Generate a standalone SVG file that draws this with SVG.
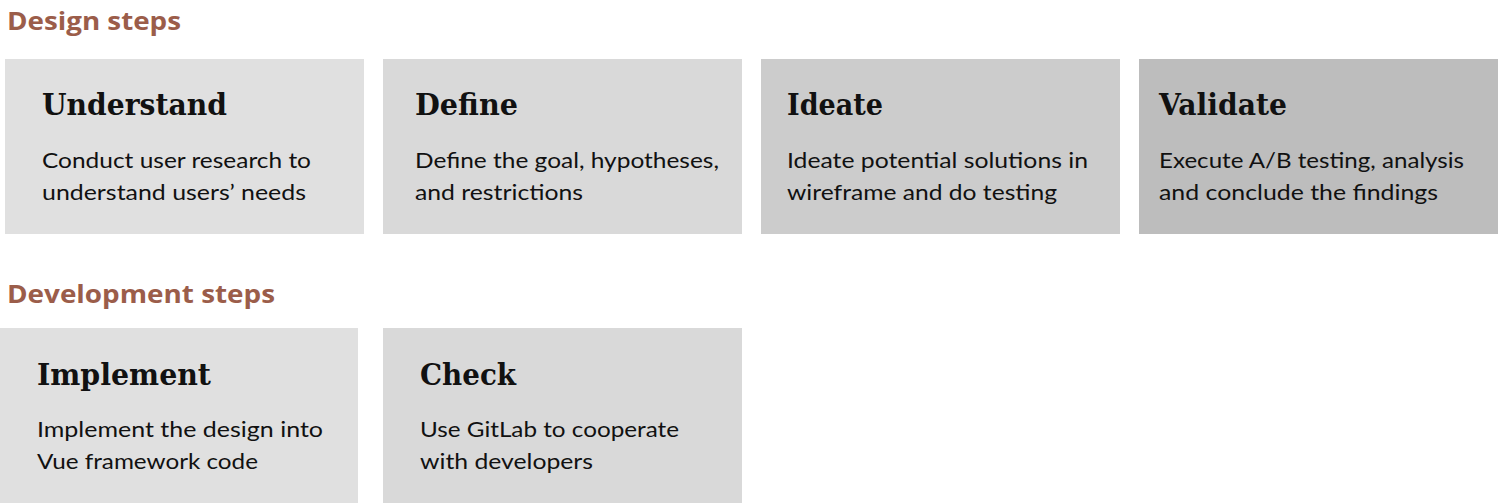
<svg xmlns="http://www.w3.org/2000/svg" width="1498" height="503" viewBox="0 0 1498 503">
  <style>
    .section { font-family: "Open Sans", "Noto Sans", sans-serif; font-weight: 700; font-size: 25px; fill: #9b5d4a; }
    .title { font-family: "DejaVu Serif", "Liberation Serif", serif; font-weight: 700; font-size: 30px; fill: #111111; }
    .body { font-family: "Lato", "Noto Sans", sans-serif; font-size: 22px; fill: #111111; }
    .c1 { fill: #e0e0e0; }
    .c2 { fill: #d9d9d9; }
    .c3 { fill: #cccccc; }
    .c4 { fill: #bdbdbd; }
  </style>
  <rect width="1498" height="503" fill="#ffffff"/>

  <!-- Design steps -->
  <text class="section" x="7" y="30" textLength="174" lengthAdjust="spacingAndGlyphs">Design steps</text>

  <g id="understand">
    <rect class="c1" x="5" y="59" width="359" height="175"/>
    <text class="title" x="42" y="115" textLength="185" lengthAdjust="spacingAndGlyphs">Understand</text>
    <text class="body" x="42" y="168" textLength="269" lengthAdjust="spacingAndGlyphs">Conduct user research to</text>
    <text class="body" x="42" y="200" textLength="264" lengthAdjust="spacingAndGlyphs">understand users’ needs</text>
  </g>

  <g id="define">
    <rect class="c2" x="383" y="59" width="359" height="175"/>
    <text class="title" x="415" y="115" textLength="103" lengthAdjust="spacingAndGlyphs">Define</text>
    <text class="body" x="415" y="168" textLength="304" lengthAdjust="spacingAndGlyphs">Define the goal, hypotheses,</text>
    <text class="body" x="415" y="200" textLength="168" lengthAdjust="spacingAndGlyphs">and restrictions</text>
  </g>

  <g id="ideate">
    <rect class="c3" x="761" y="59" width="359" height="175"/>
    <text class="title" x="787" y="115" textLength="96" lengthAdjust="spacingAndGlyphs">Ideate</text>
    <text class="body" x="787" y="168" textLength="301" lengthAdjust="spacingAndGlyphs">Ideate potential solutions in</text>
    <text class="body" x="787" y="200" textLength="270" lengthAdjust="spacingAndGlyphs">wireframe and do testing</text>
  </g>

  <g id="validate">
    <rect class="c4" x="1139" y="59" width="359" height="175"/>
    <text class="title" x="1159" y="115" textLength="128" lengthAdjust="spacingAndGlyphs">Validate</text>
    <text class="body" x="1159" y="168" textLength="305" lengthAdjust="spacingAndGlyphs">Execute A/B testing, analysis</text>
    <text class="body" x="1159" y="200" textLength="279" lengthAdjust="spacingAndGlyphs">and conclude the findings</text>
  </g>

  <!-- Development steps -->
  <text class="section" x="7" y="303" textLength="268" lengthAdjust="spacingAndGlyphs">Development steps</text>

  <g id="implement">
    <rect class="c1" x="0" y="328" width="358" height="175"/>
    <text class="title" x="37" y="385" textLength="174" lengthAdjust="spacingAndGlyphs">Implement</text>
    <text class="body" x="37" y="437" textLength="286" lengthAdjust="spacingAndGlyphs">Implement the design into</text>
    <text class="body" x="37" y="469" textLength="221" lengthAdjust="spacingAndGlyphs">Vue framework code</text>
  </g>

  <g id="check">
    <rect class="c2" x="383" y="328" width="359" height="175"/>
    <text class="title" x="420" y="385" textLength="96" lengthAdjust="spacingAndGlyphs">Check</text>
    <text class="body" x="420" y="437" textLength="259" lengthAdjust="spacingAndGlyphs">Use GitLab to cooperate</text>
    <text class="body" x="420" y="469" textLength="173" lengthAdjust="spacingAndGlyphs">with developers</text>
  </g>

  <g id="connectors"></g>
</svg>
